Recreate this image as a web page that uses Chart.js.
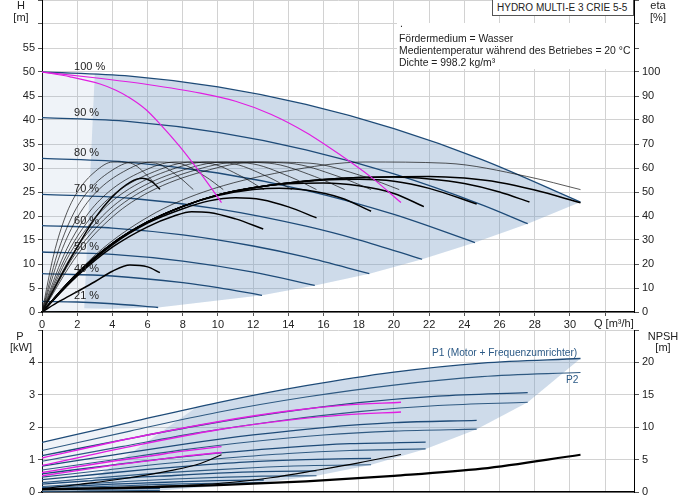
<!DOCTYPE html>
<html>
<head>
<meta charset="utf-8">
<script src="https://cdn.jsdelivr.net/npm/chart.js@4.4.0/dist/chart.umd.min.js"></script>
<style>
  body { margin: 0; background: #fff; font-family: 'Liberation Sans', Arial, sans-serif; font-size: 11px; color: #222; }
  #wrap { position: relative; width: 691px; height: 500px; overflow: hidden; }
  .box { position: absolute; left: 0; width: 691px; }
  .lbl { position: absolute; white-space: nowrap; line-height: 12px; }
  .c { text-align: center; }
  .info { font-size: 10.4px; }
  #title { position: absolute; left: 492px; top: -1px; width: 142px; height: 17px; border: 1px solid #555; background: #fff; line-height: 16px; padding-left: 4px; box-sizing: border-box; white-space: nowrap; font-size: 10px; }
  #info { position: absolute; left: 397px; top: 23px; width: 237px; height: 46px; background: #fff; }
</style>
</head>
<body>
<div id="wrap">
  <div class="box" style="top:0;height:330px"><canvas id="topChart"></canvas></div>
  <div class="box" style="top:330px;height:170px"><canvas id="bottomChart"></canvas></div>

  <div class="lbl c" style="left:12px;top:-1px;width:18px">H</div>
  <div class="lbl c" style="left:9px;top:11px;width:24px">[m]</div>
  <div class="lbl c" style="left:646px;top:-1px;width:24px">eta</div>
  <div class="lbl c" style="left:646px;top:11px;width:24px">[%]</div>
  <div class="lbl" style="left:594px;top:317px">Q [m³/h]</div>

  <div class="lbl c" style="left:11px;top:330px;width:18px">P</div>
  <div class="lbl c" style="left:6px;top:341px;width:30px">[kW]</div>
  <div class="lbl c" style="left:645px;top:330px;width:36px">NPSH</div>
  <div class="lbl c" style="left:651px;top:341px;width:24px">[m]</div>

  <div id="title">HYDRO MULTI-E 3 CRIE 5-5</div>
  <div id="info"></div>
  <div class="lbl info" style="left:400px;top:18px">.</div>
  <div class="lbl info" style="left:399px;top:33px">Fördermedium = Wasser</div>
  <div class="lbl info" style="left:399px;top:45px">Medientemperatur während des Betriebes = 20 °C</div>
  <div class="lbl info" style="left:399px;top:57px">Dichte = 998.2 kg/m³</div>

  <div class="lbl" style="left:432px;top:347px;color:#2c5a86;font-size:10.2px">P1 (Motor + Frequenzumrichter)</div>
  <div class="lbl" style="left:566px;top:374px;color:#2c5a86;font-size:10.2px">P2</div>
</div>

<script>
// ---- top chart: QH curves per speed ----
const speedLabels = ['100 %', '90 %', '80 %', '70 %', '60 %', '50 %', '40 %', '21 %'];
const qhFlow = [
  [0, 5, 10, 15, 20, 25, 30.6],
  [0, 5, 10, 15, 20, 25, 27.6],
  [0, 5, 10, 15, 20, 24.6],
  [0, 5, 10, 15, 18, 21.6],
  [0, 4, 8, 12, 15, 18.6],
  [0, 4, 8, 12, 15.5],
  [0, 4, 8, 10, 12.5],
  [0, 2, 4, 6.6]
];
const qhHead = [
  [50, 49.15, 46.9, 43.25, 38.2, 31.75, 22.9],
  [40.5, 39.67, 37.43, 33.79, 28.76, 22.33, 18.4],
  [32, 31.18, 28.96, 25.34, 20.32, 14.47],
  [24.5, 23.7, 21.5, 17.89, 15.05, 10.99],
  [18, 17.48, 16.07, 13.75, 11.43, 7.98],
  [12.5, 11.99, 10.59, 8.29, 5.54],
  [8, 7.5, 6.11, 5.08, 3.47],
  [2.2, 2.08, 1.72, 0.94]
];

// magenta limit curves (H)
const limitFlow = [
  [0, 1.6, 3.3, 4.2, 5, 5.9, 6.7, 7.8, 8.8, 9.6, 10.2],
  [0, 3, 6, 9, 11, 13, 15, 17, 18.7, 20.4]
];
const limitHead = [
  [50, 49.0, 47.5, 46.2, 44.6, 42.2, 39.2, 34.6, 29.9, 25.9, 22.8],
  [50, 48.8, 47.4, 45.6, 43.9, 41.2, 37.4, 32.6, 28.1, 22.8]
];

// efficiency, thin curves (all share the same eta values)
const etaThinFlow = [
  [0, 0.67, 1.34, 2.01, 3.02, 4.02, 5.03, 6.03, 6.7],
  [0, 0.86, 1.72, 2.58, 3.87, 5.16, 6.45, 7.74, 8.6],
  [0, 1.03, 2.06, 3.09, 4.64, 6.18, 7.73, 9.27, 10.3],
  [0, 1.26, 2.52, 3.78, 5.67, 7.56, 9.45, 11.34, 12.6],
  [0, 1.42, 2.84, 4.26, 6.39, 8.52, 10.65, 12.78, 14.2],
  [0, 1.56, 3.12, 4.68, 7.02, 9.36, 11.7, 14.04, 15.6],
  [0, 1.72, 3.44, 5.16, 7.74, 10.32, 12.9, 15.48, 17.2],
  [0, 1.87, 3.74, 5.61, 8.42, 11.22, 14.03, 16.83, 18.7],
  [0, 2.03, 4.06, 6.09, 9.14, 12.18, 15.23, 18.27, 20.3],
  [0, 3.06, 6.12, 9.18, 13.77, 18.36, 22.95, 27.54, 30.6]
];
const etaThin = [0, 24, 40, 50, 58.5, 62.5, 62, 56.5, 51];

// efficiency, thick curves
const etaTotalFlow = [
  [0, 1, 2, 3, 4, 5, 6, 6.7],
  [0, 1, 2, 3, 4, 5, 5.7, 6.2, 6.7],
  [0, 2, 4, 6, 7.5, 8.5, 9.5, 11, 12.57],
  [0, 2, 4, 6, 8, 9.5, 11, 12.5, 14, 15.6],
  [0, 2, 4, 6, 8, 10, 12, 13.5, 15, 17, 18.7],
  [0, 2, 4, 6, 8, 10, 12, 14, 16, 18, 20, 21.7],
  [0, 2, 4, 6, 8, 10, 12, 14, 16, 18, 20, 22, 24.7],
  [0, 2, 4, 6, 8, 10, 12, 14, 16, 18, 20, 22, 24, 26, 27.7],
  [0, 2, 4, 6, 8, 10, 12, 14, 16, 18, 20, 22, 24, 26, 28, 30.6]
];
const etaTotal = [
  [0, 4.5, 8.5, 12.6, 17, 19.6, 18.8, 16.4],
  [0, 14, 27, 39, 48, 54, 55.7, 54.5, 51.2],
  [0, 15, 27, 35.5, 40, 41.8, 41.5, 38.8, 34.6],
  [0, 15.5, 28, 37, 43, 46.3, 47.6, 46.8, 43.8, 39.2],
  [0, 16, 28.5, 37.5, 44, 48.5, 51, 51.6, 50.8, 47.5, 42],
  [0, 16, 28.5, 37.5, 44, 48.8, 51.8, 53.4, 53.8, 52.6, 49.4, 43.9],
  [0, 16, 28.5, 37.5, 44, 48.8, 51.8, 53.8, 55, 55.3, 54.5, 51.5, 45],
  [0, 16, 28.5, 37.5, 44, 48.8, 51.8, 53.8, 55.2, 56, 56.2, 55.4, 53.5, 50, 45.8],
  [0, 16, 28.5, 37.5, 44, 48.8, 51.8, 53.8, 55.2, 56, 56.4, 56.5, 55.8, 54, 50.8, 45.5]
];

// extra corners of the shaded operating range (Q, H)
const rangeLowQ = [4, 0];
const rangeLowH = [0.7, 0];
const darkEdgeQ = [2.4, 3.0];
const darkEdgeH = [0.8, 49.7];

// ---- bottom chart: power and NPSH ----
const powerFlow = [
  [0, 5, 10, 15, 20, 25, 30.6],
  [0, 4.5, 9, 13.5, 18, 22.5, 27.6],
  [0, 4, 8, 12, 16, 20, 24.7],
  [0, 3.5, 7, 10.5, 14, 17.5, 21.8],
  [0, 3, 6, 9, 12, 15, 18.7],
  [0, 2.5, 5, 7.5, 10, 12.5, 15.6],
  [0, 2, 4, 6, 8, 10, 12.6],
  [0, 2, 4, 6.7]
];
const powerP1 = [
  [1.53, 2.15, 2.76, 3.28, 3.7, 3.98, 4.12],
  [1.12, 1.6, 2.06, 2.45, 2.76, 2.96, 3.07],
  [0.8, 1.14, 1.47, 1.76, 1.99, 2.14, 2.21],
  [0.56, 0.8, 1.03, 1.22, 1.38, 1.49, 1.54],
  [0.38, 0.54, 0.7, 0.83, 0.94, 1.0, 1.04],
  [0.24, 0.34, 0.44, 0.51, 0.58, 0.63, 0.65],
  [0.14, 0.19, 0.24, 0.28, 0.32, 0.35, 0.37],
  [0.08, 0.09, 0.1, 0.11]
];
const powerP2 = [
  [1.28, 1.88, 2.46, 2.93, 3.3, 3.56, 3.69],
  [0.95, 1.4, 1.84, 2.2, 2.48, 2.67, 2.77],
  [0.68, 0.99, 1.3, 1.56, 1.76, 1.88, 1.94],
  [0.46, 0.67, 0.88, 1.05, 1.19, 1.28, 1.33],
  [0.29, 0.43, 0.56, 0.66, 0.75, 0.81, 0.84],
  [0.17, 0.25, 0.33, 0.4, 0.45, 0.49, 0.5],
  [0.1, 0.14, 0.18, 0.22, 0.25, 0.27, 0.29],
  [0.02, 0.03, 0.04, 0.05]
];
const limitPowerFlow = [
  [0, 5, 10, 14, 17.2, 20.4],
  [0, 5, 10, 14, 17.2, 20.4],
  [0, 2, 4, 6, 8, 10.2],
  [0, 2, 4, 6, 8, 10.2]
];
const limitPower = [
  [1.05, 1.65, 2.17, 2.5, 2.68, 2.77],
  [0.82, 1.4, 1.92, 2.22, 2.38, 2.47],
  [0.6, 0.78, 0.95, 1.1, 1.26, 1.4],
  [0.5, 0.66, 0.82, 0.96, 1.1, 1.22]
];
const npshFlow = [
  [0, 5, 10, 15, 20, 25, 30.6],
  [0, 2.2, 4.5, 7.3, 9, 10.2],
  [0, 5, 10, 13, 15.7, 18, 20.4]
];
const npshHead = [
  [0.4, 0.65, 1.05, 1.65, 2.5, 3.6, 5.75],
  [0.5, 1.2, 2.0, 3.3, 4.4, 5.75],
  [0.4, 0.75, 1.3, 2.2, 3.4, 4.5, 5.8]
];
const powerLowQ = [0];
const powerLowP = [0.02];
const powerDarkQ = [2.0, 8.8];
const powerDarkP = [0.05, 2.62];

const labelFlow = 1.82;

// ---- styling ----
const FONT = "'Liberation Sans', Arial, sans-serif";
Chart.defaults.font.family = FONT;
Chart.defaults.font.size = 11;
Chart.defaults.color = '#222';

const blue = '#1e4b78';
const blue2 = '#2f5a82';
const magenta = '#e11ee1';
const gridColor = '#d2d2d2';
const shadeDark = 'rgba(120,158,196,0.28)';
const shadeLight = 'rgba(120,158,196,0.12)';

const toPoints = (xs, ys) => xs.map((x, i) => ({ x: x, y: ys[i] }));

function curve(xs, ys, color, width, axis, order) {
  return {
    data: toPoints(xs, ys),
    borderColor: color,
    borderWidth: width,
    yAxisID: axis,
    pointRadius: 0,
    fill: false,
    cubicInterpolationMode: 'monotone',
    order: order
  };
}

function shape(points, color) {
  return {
    data: points,
    backgroundColor: color,
    borderColor: 'transparent',
    borderWidth: 0,
    pointRadius: 0,
    tension: 0,
    fill: 'shape',
    yAxisID: 'y',
    order: 20
  };
}

function fixWidth(w) {
  return s => { s.width = w; s.paddingTop = 0; s.paddingBottom = 0; };
}
function fixHeight(h) {
  return s => { s.height = h; s.paddingLeft = 0; s.paddingRight = 0; };
}

function xAxis(showLabels, h) {
  return {
    type: 'linear', min: 0, max: 33.64,
    ticks: { stepSize: 2, includeBounds: false, autoSkip: false, maxRotation: 0, padding: 2,
      display: showLabels, callback: v => (v <= 30 ? v : '') },
    grid: { color: gridColor, tickLength: 4, tickColor: '#555', drawTicks: showLabels },
    border: { color: '#000', width: 1.5 },
    afterFit: fixHeight(h)
  };
}

function leftAxis(max, step, lastLabel) {
  return {
    type: 'linear', position: 'left', min: 0, max: max,
    ticks: { stepSize: step, includeBounds: false, padding: 3, callback: v => (v <= lastLabel ? v : '') },
    grid: { color: gridColor, tickLength: 4, tickColor: '#555' },
    border: { color: '#000', width: 1 },
    afterFit: fixWidth(42)
  };
}

function rightAxis(max, step, lastLabel) {
  return {
    type: 'linear', position: 'right', min: 0, max: max,
    ticks: { stepSize: step, includeBounds: false, padding: 3, callback: v => (v <= lastLabel ? v : '') },
    grid: { drawOnChartArea: false, tickLength: 5, tickColor: '#555' },
    border: { color: '#000', width: 1 },
    afterFit: fixWidth(57)
  };
}

const speedLabelPlugin = {
  id: 'speedLabels',
  afterDatasetsDraw(chart) {
    const { ctx, scales } = chart;
    ctx.save();
    ctx.font = '11px ' + FONT;
    ctx.fillStyle = '#222';
    ctx.textBaseline = 'middle';
    speedLabels.forEach((t, i) => {
      ctx.fillText(t, scales.x.getPixelForValue(labelFlow), scales.y.getPixelForValue(qhHead[i][0]) - 5);
    });
    ctx.restore();
  }
};

// ---- top chart datasets ----
const topSets = [];

// shaded operating range
const rangeTop = toPoints(qhFlow[0], qhHead[0]);
const rangeEnds = qhFlow.slice(1).map((f, i) => ({ x: f[f.length - 1], y: qhHead[i + 1][qhHead[i + 1].length - 1] }));
topSets.push(shape(rangeTop.concat(rangeEnds, toPoints(rangeLowQ, rangeLowH)), shadeLight));
topSets.push(shape(
  [{ x: darkEdgeQ[1], y: darkEdgeH[1] }].concat(rangeTop.filter(p => p.x >= 5), rangeEnds, [{ x: rangeLowQ[0], y: rangeLowH[0] }, { x: darkEdgeQ[0], y: darkEdgeH[0] }]),
  shadeDark));

qhFlow.forEach((f, i) => topSets.push(curve(f, qhHead[i], blue, 1.3, 'y', 3)));
etaThinFlow.forEach(f => topSets.push(curve(f, etaThin, '#111', 0.7, 'y2', 2)));
etaTotalFlow.forEach((f, i) => topSets.push(curve(f, etaTotal[i], '#000', 1.5, 'y2', 2)));
limitFlow.forEach((f, i) => topSets.push(curve(f, limitHead[i], magenta, 1.2, 'y', 1)));

new Chart(document.getElementById('topChart'), {
  type: 'line',
  data: { datasets: topSets },
  options: {
    responsive: true, maintainAspectRatio: false, animation: false, events: [],
    layout: { padding: 0 },
    plugins: { legend: { display: false }, tooltip: { enabled: false } },
    scales: { x: xAxis(true, 18), y: leftAxis(65, 5, 55), y2: rightAxis(130, 10, 100) }
  },
  plugins: [speedLabelPlugin]
});

// ---- bottom chart datasets ----
const botSets = [];
const powerTop = toPoints(powerFlow[0], powerP1[0]);
const powerEnds = powerFlow.slice(1).map((f, i) => ({ x: f[f.length - 1], y: powerP2[i + 1][powerP2[i + 1].length - 1] }));
botSets.push(shape(powerTop.concat(powerEnds, toPoints(powerLowQ, powerLowP)), shadeLight));
botSets.push(shape(
  [{ x: powerDarkQ[1], y: powerDarkP[1] }].concat(powerTop.filter(p => p.x >= 10), powerEnds, [{ x: powerDarkQ[0], y: powerDarkP[0] }]),
  shadeDark));

powerFlow.forEach((f, i) => {
  botSets.push(curve(f, powerP1[i], blue, 1.3, 'y', 3));
  botSets.push(curve(f, powerP2[i], blue2, 1.1, 'y', 3));
});
limitPowerFlow.forEach((f, i) => botSets.push(curve(f, limitPower[i], magenta, 1.4, 'y', 1)));
npshFlow.forEach((f, i) => botSets.push(curve(f, npshHead[i], '#000', i === 0 ? 2.2 : 1.1, 'y2', 2)));

new Chart(document.getElementById('bottomChart'), {
  type: 'line',
  data: { datasets: botSets },
  options: {
    responsive: true, maintainAspectRatio: false, animation: false, events: [],
    layout: { padding: 0 },
    plugins: { legend: { display: false }, tooltip: { enabled: false } },
    scales: { x: xAxis(false, 8), y: leftAxis(5, 1, 4), y2: rightAxis(25, 5, 20) }
  }
});
</script>
</body>
</html>
